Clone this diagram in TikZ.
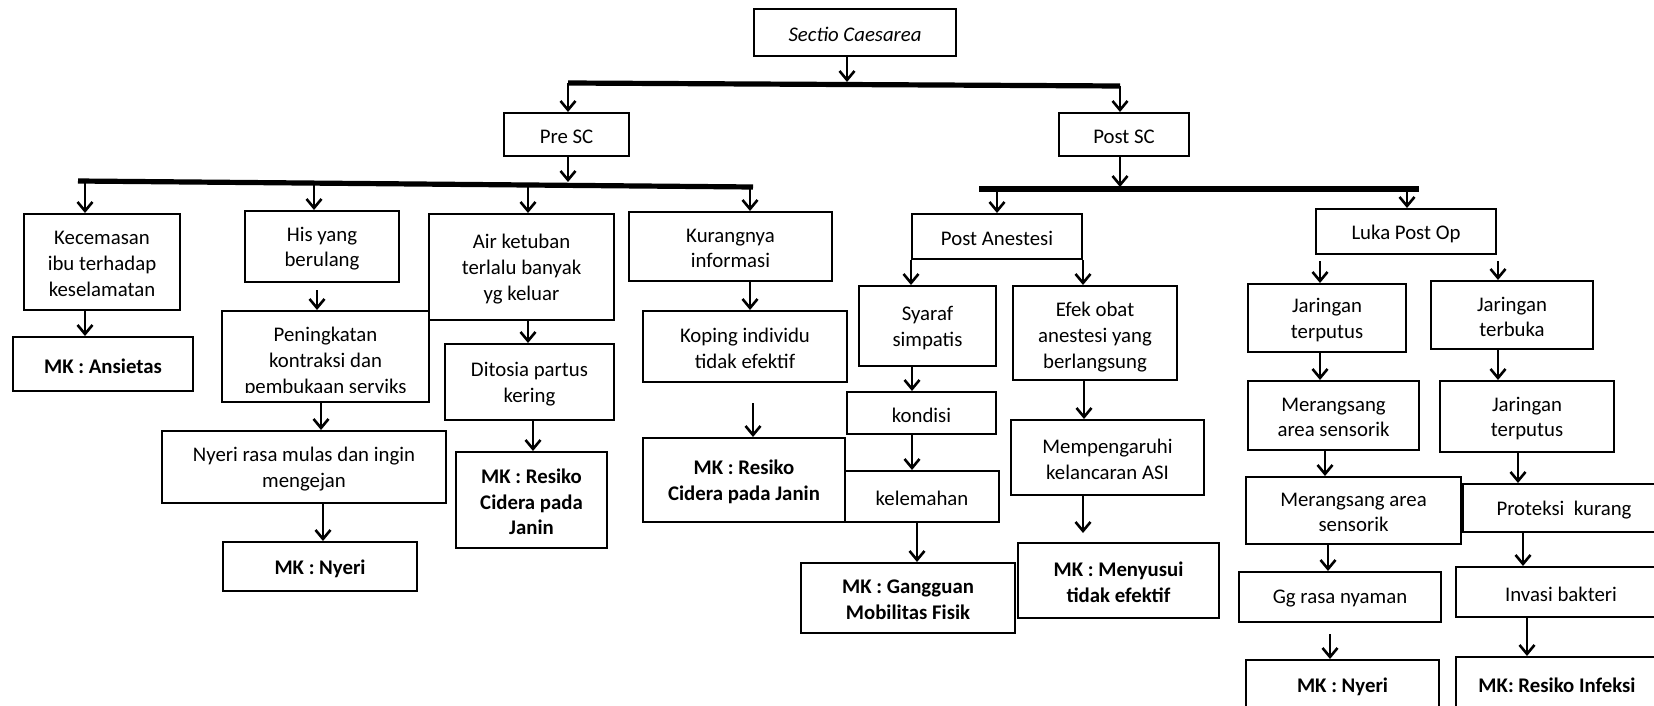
\documentclass[tikz,border=0pt]{standalone}
\usepackage{fontspec}
\setmainfont{Carlito}
\usetikzlibrary{arrows.meta,fit}

\begin{document}
\begin{tikzpicture}[x=0.5pt,y=0.5pt,yscale=-1,xscale=1,
  txt/.style={inner sep=0pt, align=center, font=\fontsize{10.4}{12.8}\selectfont},
  box/.style={draw, line width=1pt, inner sep=0pt},
  tx/.style={label={[txt,yshift=-1pt]center:{#1}}},
  tb/.style={label={[txt,yshift=-1pt,font=\fontsize{10.4}{12.8}\selectfont\bfseries]center:{#1}}},
  arr/.style={line width=0.9pt, -{Straight Barb[length=4.5pt,width=7.5pt,line width=1.3pt]}},
  bar/.style={line width=2.6pt}]
%set diagram frame, 1654 x 706
\path[use as bounding box, clip] (0,0) rectangle (1654,706);

%Shape: Rectangle -- top
\node[box, fit={(754,9) (956,56)}, tx={\itshape Sectio Caesarea}] (sc) {};
\node[box, fit={(504,113) (629,156)}, tx={Pre SC}] (pre) {};
\node[box, fit={(1059,113) (1189,156)}, tx={Post SC}] (post) {};

%Straight Lines -- bars
\coordinate (topL) at (568,83);
\coordinate (topR) at (1120,86);
\coordinate (topM) at (847,82);
\draw[bar] (topL) -- (topR);
\draw[arr] (sc.south -| topM) -- (topM);
\draw[arr] (topL) -- (topL |- pre.north);
\draw[arr] (topR) -- (topR |- post.north);

\coordinate (preL) at (78,181);
\coordinate (preR) at (753,187);
\coordinate (preM) at (568,182);
\draw[bar] (preL) -- (preR);
\draw[arr] (pre.south -| preM) -- (preM);

\coordinate (postL) at (979,189);
\coordinate (postR) at (1419,189);
\coordinate (postM) at (1120,187);
\draw[bar] (postL) -- (postR);
\draw[arr] (post.south -| postM) -- (postM);

%Shape: Rectangle -- Pre SC branch
\node[box, fit={(24,214) (180,310)}, tx={Kecemasan\\ibu terhadap\\keselamatan}] (kec) {};
\node[box, fit={(245,211) (399,282)}, tx={His yang\\berulang}] (his) {};
\node[box, fit={(429,214) (614,320)}, tx={Air ketuban\\terlalu banyak\\yg keluar}] (air) {};
\node[box, fit={(629,212) (832,281)}, tx={Kurangnya\\informasi}] (kur) {};

\node[box, fit={(13,337) (193,391)}, tb={MK : Ansietas}] (ans) {};
\node[box, fit={(222,311) (429,402)}] (pen) {};
\begin{scope}
\clip (222,311) rectangle (429,392);
\node[txt] (penT) at (325.5,362) {Peningkatan\\kontraksi dan\\pembukaan serviks};
\end{scope}
\node[box, fit={(445,344) (614,420)}, tx={Ditosia partus\\kering}] (dit) {};
\node[box, fit={(643,311) (847,382)}, tx={Koping individu\\tidak efektif}] (kop) {};

\node[box, fit={(162,431) (446,503)}, tx={Nyeri rasa mulas dan ingin\\mengejan}] (nye) {};
\node[box, fit={(223,542) (417,591)}, tb={MK : Nyeri}] (mkn1) {};
\node[box, fit={(456,452) (607,548)}, tb={MK : Resiko\\Cidera pada\\Janin}] (rcj1) {};
\node[box, fit={(643,438) (845,522)}, tb={MK : Resiko\\Cidera pada Janin}] (rcj2) {};

%Shape: Rectangle -- Post SC branch
\node[box, fit={(912,214) (1082,259)}, tx={Post Anestesi}] (pan) {};
\node[box, fit={(1316,209) (1496,254)}, tx={Luka Post Op}] (luka) {};

\node[box, fit={(859,286) (996,366)}, tx={Syaraf\\simpatis}] (sya) {};
\node[box, fit={(1013,286) (1177,380)}] (efk) {};
\begin{scope}
\clip (1013,286) rectangle (1177,372);
\node[txt] (efkT) at (1095,337) {Efek obat\\anestesi yang\\berlangsung};
\end{scope}
\node[box, fit={(847,392) (996,434)}, tx={kondisi}] (kon) {};
\node[box, fit={(845,471) (999,522)}, tx={kelemahan}] (kel) {};
\node[box, fit={(801,563) (1015,633)}, tb={MK : Gangguan\\Mobilitas Fisik}] (mgf) {};
\node[box, fit={(1011,420) (1204,495)}, tx={Mempengaruhi\\kelancaran ASI}] (mpg) {};
\node[box, fit={(1018,543) (1219,618)}, tb={MK : Menyusui\\tidak efektif}] (mny) {};

\node[box, fit={(1248,284) (1406,352)}, tx={Jaringan\\terputus}] (jt1) {};
\node[box, fit={(1431,281) (1593,349)}, tx={Jaringan\\terbuka}] (jb) {};
\node[box, fit={(1248,381) (1419,450)}, tx={Merangsang\\area sensorik}] (mas1) {};
\node[box, fit={(1246,477) (1461,544)}, tx={Merangsang area\\sensorik}] (mas2) {};
\node[box, fit={(1239,572) (1441,622)}, tx={Gg rasa nyaman}] (ggr) {};
\node[box, fit={(1246,660) (1439,710)}, tb={MK : Nyeri}] (mkn2) {};
\node[box, fit={(1440,381) (1614,452)}, tx={Jaringan\\terputus}] (jt2) {};
\node[box, fit={(1463,484) (1665,532)}, tx={Proteksi\ \ kurang}] (pro) {};
\node[box, fit={(1456,567) (1666,617)}, tx={Invasi bakteri}] (inv) {};
\node[box, fit={(1456,657) (1658,710)}, tb={MK: Resiko Infeksi}] (mri) {};

%Straight Lines -- arrows from the bars
\coordinate (pb1) at (85,182);
\coordinate (pb2) at (314,184);
\coordinate (pb3) at (528,185);
\coordinate (pb4) at (750,187);
\draw[arr] (pb1) -- (pb1 |- kec.north);
\draw[arr] (pb2) -- (pb2 |- his.north);
\draw[arr] (pb3) -- (pb3 |- air.north);
\draw[arr] (pb4) -- (pb4 |- kur.north);
\coordinate (qb1) at (997,189);
\coordinate (qb2) at (1407,189);
\draw[arr] (qb1) -- (qb1 |- pan.north);
\draw[arr] (qb2) -- (qb2 |- luka.north);

%Straight Lines -- Pre SC arrows
\draw[arr] ([xshift=-8.5pt]kec.south) -- ([xshift=-8.5pt]kec.south |- ans.north);
\draw[arr, shorten <=3.5pt] ([xshift=-2.5pt]his.south) -- ([xshift=-2.5pt]his.south |- pen.north);
\draw[arr] ([xshift=3.25pt]air.south) -- ([xshift=3.25pt]air.south |- dit.north);
\draw[arr] ([xshift=9.75pt]kur.south) -- ([xshift=9.75pt]kur.south |- kop.north);
\draw[arr] ([xshift=-2.25pt]pen.south) -- ([xshift=-2.25pt]pen.south |- nye.north);
\draw[arr] ([xshift=9.5pt]nye.south) -- ([xshift=9.5pt]nye.south |- mkn1.north);
\draw[arr] ([xshift=1.75pt]dit.south) -- ([xshift=1.75pt]dit.south |- rcj1.north);
\draw[arr, shorten <=10pt] ([xshift=4pt]kop.south) -- ([xshift=4pt]kop.south |- rcj2.north);

%Straight Lines -- Post SC arrows
\draw[arr] (pan.south west) -- (pan.south west |- sya.north);
\draw[arr] (pan.south east) -- (pan.south east |- efk.north);
\draw[arr, shorten <=3pt] ([xshift=-3.5pt]jt1.north |- luka.south) -- ([xshift=-3.5pt]jt1.north);
\draw[arr, shorten <=3pt] ([xshift=-7pt]jb.north |- luka.south) -- ([xshift=-7pt]jb.north);
\draw[arr] ([xshift=-7.75pt]sya.south) -- ([xshift=-7.75pt]sya.south |- kon.north);
\draw[arr] ([xshift=-4.75pt]kon.south) -- ([xshift=-4.75pt]kon.south |- kel.north);
\draw[arr] ([xshift=-2.5pt]kel.south) -- ([xshift=-2.5pt]kel.south |- mgf.north);
\draw[arr] ([xshift=-5.5pt]efk.south) -- ([xshift=-5.5pt]efk.south |- mpg.north);
\draw[arr, shorten >=4.5pt] ([xshift=-12.25pt]mpg.south) -- ([xshift=-12.25pt]mpg.south |- mny.north);
\draw[arr] ([xshift=-3.5pt]jt1.south) -- ([xshift=-3.5pt]jt1.south |- mas1.north);
\draw[arr] ([xshift=-4.25pt]mas1.south) -- ([xshift=-4.25pt]mas1.south |- mas2.north);
\draw[arr] ([xshift=-12.75pt]mas2.south) -- ([xshift=-12.75pt]mas2.south |- ggr.north);
\draw[arr, shorten <=5.5pt] ([xshift=-5pt]ggr.south) -- ([xshift=-5pt]ggr.south |- mkn2.north);
\draw[arr] ([xshift=-7pt]jb.south) -- ([xshift=-7pt]jb.south |- jt2.north);
\draw[arr] ([xshift=-4.5pt]jt2.south) -- ([xshift=-4.5pt]jt2.south |- pro.north);
\draw[arr] ([xshift=-20.5pt]pro.south) -- ([xshift=-20.5pt]pro.south |- inv.north);
\draw[arr] ([xshift=-17pt]inv.south) -- ([xshift=-17pt]inv.south |- mri.north);
\end{tikzpicture}
\end{document}
